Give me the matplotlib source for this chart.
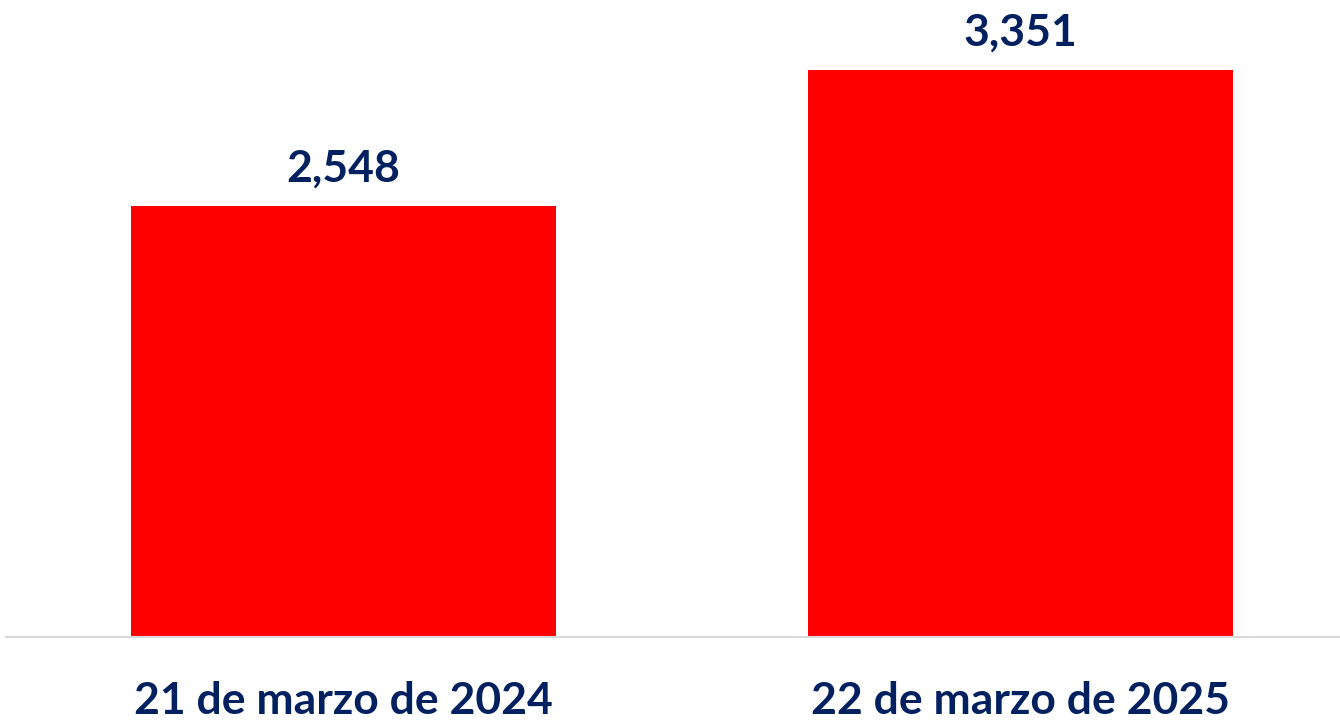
import matplotlib
matplotlib.use('Agg')
import matplotlib.pyplot as plt

categories = ['21 de marzo de 2024', '22 de marzo de 2025']
values = [2548, 3351]

navy = '#002060'
plt.rcParams['font.family'] = ['Lato', 'DejaVu Sans']

fig = plt.figure(figsize=(13.4, 7.23), dpi=100)
ax = fig.add_axes([6 / 1340, 86 / 723, 1334 / 1340, 637 / 723])

x = range(len(categories))
bars = ax.bar(x, values, width=0.629, color='#ff0000')

ax.set_xlim(-0.4985, 1.4719)
ax.set_ylim(0, 3765)

for b, v in zip(bars, values):
    ax.annotate(f'{v:,}', (b.get_x() + b.get_width() / 2, v),
                xytext=(0, 24), textcoords='offset pixels',
                ha='center', va='baseline', fontsize=32,
                fontweight='bold', color=navy)

for i, c in enumerate(categories):
    ax.annotate(c, (i, 0), xytext=(0, -77), textcoords='offset pixels',
                ha='center', va='baseline', fontsize=32,
                fontweight='bold', color=navy)

for s in ['top', 'right', 'left']:
    ax.spines[s].set_visible(False)
ax.spines['bottom'].set_color('#d9d9d9')
ax.spines['bottom'].set_linewidth(1.5)
ax.set_xticks([])
ax.set_yticks([])

fig.savefig('out.png', dpi=100)
